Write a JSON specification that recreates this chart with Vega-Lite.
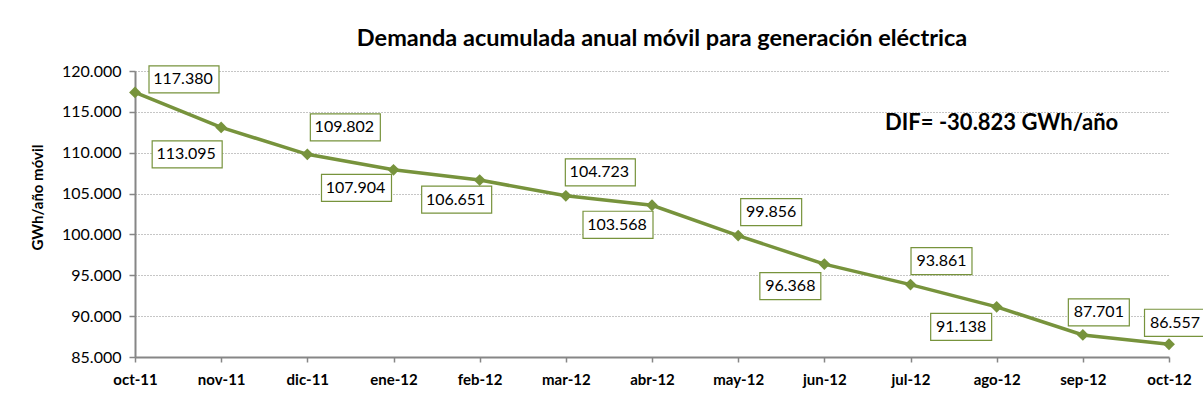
{
  "$schema": "https://vega.github.io/schema/vega-lite/v6.json",
  "autosize": {"type": "none"},
  "padding": {"left": 135, "top": 71, "right": 34, "bottom": 56},
  "width": 1034,
  "height": 286,
  "background": "white",
  "title": {
    "text": "Demanda acumulada anual móvil para generación eléctrica",
    "font": "Lato",
    "fontSize": 23.5,
    "fontWeight": "bold",
    "color": "#000000",
    "anchor": "middle",
    "baseline": "alphabetic",
    "offset": 24,
    "dy": 30,
    "dx": 10
  },
  "data": {
    "values": [
      {"mes": "oct-11", "valor": 117380},
      {"mes": "nov-11", "valor": 113095},
      {"mes": "dic-11", "valor": 109802},
      {"mes": "ene-12", "valor": 107904},
      {"mes": "feb-12", "valor": 106651},
      {"mes": "mar-12", "valor": 104723},
      {"mes": "abr-12", "valor": 103568},
      {"mes": "may-12", "valor": 99856},
      {"mes": "jun-12", "valor": 96368},
      {"mes": "jul-12", "valor": 93861},
      {"mes": "ago-12", "valor": 91138},
      {"mes": "sep-12", "valor": 87701},
      {"mes": "oct-12", "valor": 86557}
    ]
  },
  "encoding": {
    "x": {
      "field": "mes",
      "type": "ordinal",
      "sort": null,
      "scale": {"type": "point", "padding": 0},
      "axis": {
        "title": null,
        "labelAngle": 0,
        "labelFont": "Lato",
        "labelFontSize": 15,
        "labelFontWeight": "bold",
        "labelColor": "#000000",
        "labelPadding": 10,
        "tickSize": 5,
        "tickColor": "#868686",
        "tickWidth": 1.5,
        "domainColor": "#868686",
        "domainWidth": 2,
        "grid": false
      }
    },
    "y": {
      "field": "valor",
      "type": "quantitative",
      "scale": {"domain": [85000, 120000], "nice": false, "zero": false},
      "axis": {
        "title": "GWh/año móvil",
        "titleFont": "Lato",
        "titleFontSize": 15,
        "titleFontWeight": "bold",
        "titleColor": "#000000",
        "titleAngle": -90,
        "titleX": -98,
        "titleY": 126,
        "titleAlign": "center",
        "titleBaseline": "middle",
        "values": [85000, 90000, 95000, 100000, 105000, 110000, 115000, 120000],
        "format": ",.0f",
        "labelFont": "Lato",
        "labelFontSize": 16,
        "labelColor": "#000000",
        "labelPadding": 8,
        "tickSize": 6,
        "tickColor": "#868686",
        "tickWidth": 1.5,
        "domainColor": "#868686",
        "domainWidth": 2,
        "grid": true,
        "gridColor": "#8c8c8c",
        "gridDash": [1, 2],
        "gridWidth": 1
      }
    }
  },
  "layer": [
    {"mark": {"type": "line", "color": "#77933C", "strokeWidth": 3.5}},
    {"mark": {"type": "point", "shape": "diamond", "filled": true, "color": "#77933C", "size": 140, "opacity": 1}},
    {
      "transform": [{"filter": "datum.mes == 'oct-11'"}],
      "layer": [
        {"mark": {"type": "point", "filled": true, "fill": "white", "stroke": "#77933C", "strokeWidth": 1.2, "size": 4900, "opacity": 1, "xOffset": 49, "yOffset": -13},
         "encoding": {"shape": {"condition": {"test": "datum.valor >= 100000", "value": "M-1,-0.386L1,-0.386L1,0.386L-1,0.386Z"}, "value": "M-0.871,-0.386L0.871,-0.386L0.871,0.386L-0.871,0.386Z"}}},
        {"mark": {"type": "text", "font": "Lato", "fontSize": 16, "color": "#000000", "align": "center", "baseline": "middle", "dx": 48, "dy": -13},
         "encoding": {"text": {"field": "valor", "type": "quantitative", "format": ",.0f"}}}
      ]
    },
    {
      "transform": [{"filter": "datum.mes == 'nov-11'"}],
      "layer": [
        {"mark": {"type": "point", "filled": true, "fill": "white", "stroke": "#77933C", "strokeWidth": 1.2, "size": 4900, "opacity": 1, "xOffset": -34, "yOffset": 27},
         "encoding": {"shape": {"condition": {"test": "datum.valor >= 100000", "value": "M-1,-0.386L1,-0.386L1,0.386L-1,0.386Z"}, "value": "M-0.871,-0.386L0.871,-0.386L0.871,0.386L-0.871,0.386Z"}}},
        {"mark": {"type": "text", "font": "Lato", "fontSize": 16, "color": "#000000", "align": "center", "baseline": "middle", "dx": -35, "dy": 27},
         "encoding": {"text": {"field": "valor", "type": "quantitative", "format": ",.0f"}}}
      ]
    },
    {
      "transform": [{"filter": "datum.mes == 'dic-11'"}],
      "layer": [
        {"mark": {"type": "point", "filled": true, "fill": "white", "stroke": "#77933C", "strokeWidth": 1.2, "size": 4900, "opacity": 1, "xOffset": 38, "yOffset": -27},
         "encoding": {"shape": {"condition": {"test": "datum.valor >= 100000", "value": "M-1,-0.386L1,-0.386L1,0.386L-1,0.386Z"}, "value": "M-0.871,-0.386L0.871,-0.386L0.871,0.386L-0.871,0.386Z"}}},
        {"mark": {"type": "text", "font": "Lato", "fontSize": 16, "color": "#000000", "align": "center", "baseline": "middle", "dx": 37, "dy": -27},
         "encoding": {"text": {"field": "valor", "type": "quantitative", "format": ",.0f"}}}
      ]
    },
    {
      "transform": [{"filter": "datum.mes == 'ene-12'"}],
      "layer": [
        {"mark": {"type": "point", "filled": true, "fill": "white", "stroke": "#77933C", "strokeWidth": 1.2, "size": 4900, "opacity": 1, "xOffset": -37, "yOffset": 18},
         "encoding": {"shape": {"condition": {"test": "datum.valor >= 100000", "value": "M-1,-0.386L1,-0.386L1,0.386L-1,0.386Z"}, "value": "M-0.871,-0.386L0.871,-0.386L0.871,0.386L-0.871,0.386Z"}}},
        {"mark": {"type": "text", "font": "Lato", "fontSize": 16, "color": "#000000", "align": "center", "baseline": "middle", "dx": -38, "dy": 18},
         "encoding": {"text": {"field": "valor", "type": "quantitative", "format": ",.0f"}}}
      ]
    },
    {
      "transform": [{"filter": "datum.mes == 'feb-12'"}],
      "layer": [
        {"mark": {"type": "point", "filled": true, "fill": "white", "stroke": "#77933C", "strokeWidth": 1.2, "size": 4900, "opacity": 1, "xOffset": -23, "yOffset": 19.5},
         "encoding": {"shape": {"condition": {"test": "datum.valor >= 100000", "value": "M-1,-0.386L1,-0.386L1,0.386L-1,0.386Z"}, "value": "M-0.871,-0.386L0.871,-0.386L0.871,0.386L-0.871,0.386Z"}}},
        {"mark": {"type": "text", "font": "Lato", "fontSize": 16, "color": "#000000", "align": "center", "baseline": "middle", "dx": -24, "dy": 19.5},
         "encoding": {"text": {"field": "valor", "type": "quantitative", "format": ",.0f"}}}
      ]
    },
    {
      "transform": [{"filter": "datum.mes == 'mar-12'"}],
      "layer": [
        {"mark": {"type": "point", "filled": true, "fill": "white", "stroke": "#77933C", "strokeWidth": 1.2, "size": 4900, "opacity": 1, "xOffset": 34.5, "yOffset": -23.5},
         "encoding": {"shape": {"condition": {"test": "datum.valor >= 100000", "value": "M-1,-0.386L1,-0.386L1,0.386L-1,0.386Z"}, "value": "M-0.871,-0.386L0.871,-0.386L0.871,0.386L-0.871,0.386Z"}}},
        {"mark": {"type": "text", "font": "Lato", "fontSize": 16, "color": "#000000", "align": "center", "baseline": "middle", "dx": 33.5, "dy": -23.5},
         "encoding": {"text": {"field": "valor", "type": "quantitative", "format": ",.0f"}}}
      ]
    },
    {
      "transform": [{"filter": "datum.mes == 'abr-12'"}],
      "layer": [
        {"mark": {"type": "point", "filled": true, "fill": "white", "stroke": "#77933C", "strokeWidth": 1.2, "size": 4900, "opacity": 1, "xOffset": -34, "yOffset": 19.5},
         "encoding": {"shape": {"condition": {"test": "datum.valor >= 100000", "value": "M-1,-0.386L1,-0.386L1,0.386L-1,0.386Z"}, "value": "M-0.871,-0.386L0.871,-0.386L0.871,0.386L-0.871,0.386Z"}}},
        {"mark": {"type": "text", "font": "Lato", "fontSize": 16, "color": "#000000", "align": "center", "baseline": "middle", "dx": -35, "dy": 19.5},
         "encoding": {"text": {"field": "valor", "type": "quantitative", "format": ",.0f"}}}
      ]
    },
    {
      "transform": [{"filter": "datum.mes == 'may-12'"}],
      "layer": [
        {"mark": {"type": "point", "filled": true, "fill": "white", "stroke": "#77933C", "strokeWidth": 1.2, "size": 4900, "opacity": 1, "xOffset": 33, "yOffset": -23.5},
         "encoding": {"shape": {"condition": {"test": "datum.valor >= 100000", "value": "M-1,-0.386L1,-0.386L1,0.386L-1,0.386Z"}, "value": "M-0.871,-0.386L0.871,-0.386L0.871,0.386L-0.871,0.386Z"}}},
        {"mark": {"type": "text", "font": "Lato", "fontSize": 16, "color": "#000000", "align": "center", "baseline": "middle", "dx": 33, "dy": -23.5},
         "encoding": {"text": {"field": "valor", "type": "quantitative", "format": ",.0f"}}}
      ]
    },
    {
      "transform": [{"filter": "datum.mes == 'jun-12'"}],
      "layer": [
        {"mark": {"type": "point", "filled": true, "fill": "white", "stroke": "#77933C", "strokeWidth": 1.2, "size": 4900, "opacity": 1, "xOffset": -34, "yOffset": 22},
         "encoding": {"shape": {"condition": {"test": "datum.valor >= 100000", "value": "M-1,-0.386L1,-0.386L1,0.386L-1,0.386Z"}, "value": "M-0.871,-0.386L0.871,-0.386L0.871,0.386L-0.871,0.386Z"}}},
        {"mark": {"type": "text", "font": "Lato", "fontSize": 16, "color": "#000000", "align": "center", "baseline": "middle", "dx": -34, "dy": 22},
         "encoding": {"text": {"field": "valor", "type": "quantitative", "format": ",.0f"}}}
      ]
    },
    {
      "transform": [{"filter": "datum.mes == 'jul-12'"}],
      "layer": [
        {"mark": {"type": "point", "filled": true, "fill": "white", "stroke": "#77933C", "strokeWidth": 1.2, "size": 4900, "opacity": 1, "xOffset": 31, "yOffset": -23.5},
         "encoding": {"shape": {"condition": {"test": "datum.valor >= 100000", "value": "M-1,-0.386L1,-0.386L1,0.386L-1,0.386Z"}, "value": "M-0.871,-0.386L0.871,-0.386L0.871,0.386L-0.871,0.386Z"}}},
        {"mark": {"type": "text", "font": "Lato", "fontSize": 16, "color": "#000000", "align": "center", "baseline": "middle", "dx": 31, "dy": -23.5},
         "encoding": {"text": {"field": "valor", "type": "quantitative", "format": ",.0f"}}}
      ]
    },
    {
      "transform": [{"filter": "datum.mes == 'ago-12'"}],
      "layer": [
        {"mark": {"type": "point", "filled": true, "fill": "white", "stroke": "#77933C", "strokeWidth": 1.2, "size": 4900, "opacity": 1, "xOffset": -35.5, "yOffset": 20},
         "encoding": {"shape": {"condition": {"test": "datum.valor >= 100000", "value": "M-1,-0.386L1,-0.386L1,0.386L-1,0.386Z"}, "value": "M-0.871,-0.386L0.871,-0.386L0.871,0.386L-0.871,0.386Z"}}},
        {"mark": {"type": "text", "font": "Lato", "fontSize": 16, "color": "#000000", "align": "center", "baseline": "middle", "dx": -35.5, "dy": 20},
         "encoding": {"text": {"field": "valor", "type": "quantitative", "format": ",.0f"}}}
      ]
    },
    {
      "transform": [{"filter": "datum.mes == 'sep-12'"}],
      "layer": [
        {"mark": {"type": "point", "filled": true, "fill": "white", "stroke": "#77933C", "strokeWidth": 1.2, "size": 4900, "opacity": 1, "xOffset": 16, "yOffset": -22.5},
         "encoding": {"shape": {"condition": {"test": "datum.valor >= 100000", "value": "M-1,-0.386L1,-0.386L1,0.386L-1,0.386Z"}, "value": "M-0.871,-0.386L0.871,-0.386L0.871,0.386L-0.871,0.386Z"}}},
        {"mark": {"type": "text", "font": "Lato", "fontSize": 16, "color": "#000000", "align": "center", "baseline": "middle", "dx": 16, "dy": -22.5},
         "encoding": {"text": {"field": "valor", "type": "quantitative", "format": ",.0f"}}}
      ]
    },
    {
      "transform": [{"filter": "datum.mes == 'oct-12'"}],
      "layer": [
        {"mark": {"type": "point", "filled": true, "fill": "white", "stroke": "#77933C", "strokeWidth": 1.2, "size": 4900, "opacity": 1, "xOffset": 6, "yOffset": -21.5},
         "encoding": {"shape": {"condition": {"test": "datum.valor >= 100000", "value": "M-1,-0.386L1,-0.386L1,0.386L-1,0.386Z"}, "value": "M-0.871,-0.386L0.871,-0.386L0.871,0.386L-0.871,0.386Z"}}},
        {"mark": {"type": "text", "font": "Lato", "fontSize": 16, "color": "#000000", "align": "center", "baseline": "middle", "dx": 6, "dy": -21.5},
         "encoding": {"text": {"field": "valor", "type": "quantitative", "format": ",.0f"}}}
      ]
    },
    {
      "transform": [{"filter": "datum.mes == 'ago-12'"}],
      "mark": {"type": "text", "font": "Lato", "fontSize": 22, "fontWeight": "bold", "color": "#000000", "align": "center", "baseline": "middle", "dx": 5},
      "encoding": {
        "x": {"datum": "ago-12"},
        "y": {"datum": 113600},
        "text": {"value": "DIF= -30.823 GWh/año"}
      }
    }
  ],
  "config": {
    "view": {"stroke": null},
    "locale": {"number": {"decimal": ",", "thousands": ".", "grouping": [3], "currency": ["", " €"]}}
  }
}
